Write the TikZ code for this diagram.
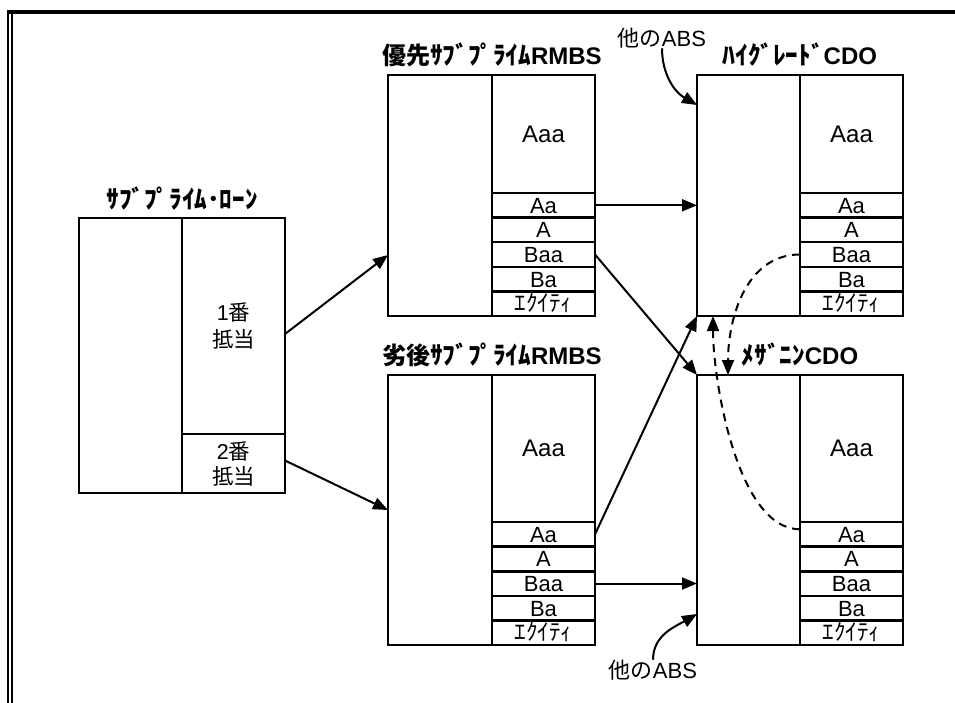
\documentclass[tikz,border=0pt]{standalone}
\usepackage{fontspec}
\setmainfont{Liberation Sans}
\newfontfamily\jp{Noto Sans CJK JP}
\newfontfamily\kana{Noto Sans CJK JP}[Scale=1.05]
\usetikzlibrary{positioning,arrows.meta}

\tikzset{
    box/.style={draw, line width=2.6pt, inner sep=0pt, outer sep=0pt, anchor=north west},
    cell/.style={box, minimum width=103pt, align=center, font=\fontsize{24}{27}\selectfont},
    band/.style={cell, minimum height=24.6pt, text height=16pt, text depth=0pt, font=\fontsize{22}{24}\selectfont},
    ttl/.style={font=\fontsize{24}{26}\selectfont\bfseries, inner sep=0pt, above=8pt},
    note/.style={font=\fontsize{22}{24}\selectfont, inner sep=0pt},
    flow/.style={line width=2pt, -{Triangle[length=15pt,width=12pt]}},
    dashflow/.style={flow, dash pattern=on 8pt off 6pt}
}

\begin{document}
\begin{tikzpicture}[x=1pt, y=1pt]
    \useasboundingbox (0,0) rectangle (955,-703);
    % frame
    \draw[line width=4pt] (8,-12) -- (955,-12);
    \draw[line width=2pt] (8,-10) -- (8,-703) (11.5,-14) -- (11.5,-703);

    % sub-prime loans
    \node[box, minimum width=103pt, minimum height=275pt] (loanL) at (79,-218) {};
    \node[cell, minimum height=216pt, font=\fontsize{21.5}{27}\selectfont] (loan1) at (loanL.north east) {1{\jp 番}\\{\jp 抵当}};
    \node[cell, minimum height=59pt, font=\fontsize{21.5}{25}\selectfont, below=0pt of loan1] (loan2) {2{\jp 番}\\{\jp 抵当}};
    \node[ttl] (loanT) at (loanL.north east) {\kana ｻﾌﾞﾌﾟﾗｲﾑ･ﾛｰﾝ};

    % senior RMBS
    \node[box, minimum width=104pt, minimum height=241pt] (srL) at (388,-75) {};
    \node[cell, minimum height=118pt] (srAaa) at (srL.north east) {Aaa};
    \node[band, below=0pt of srAaa] (srAa) {Aa};
    \node[band, below=0pt of srAa] (srA) {A};
    \node[band, below=0pt of srA] (srBaa) {Baa};
    \node[band, below=0pt of srBaa] (srBa) {Ba};
    \node[band, below=0pt of srBa] (srEq) {\kana ｴｸｲﾃｨ};
    \node[ttl] (srT) at (srL.north east) {{\jp 優先}{\kana ｻﾌﾞﾌﾟﾗｲﾑ}RMBS};

    % junior RMBS
    \node[box, minimum width=104pt, minimum height=270pt] (jrL) at (388,-375) {};
    \node[cell, minimum height=147pt] (jrAaa) at (jrL.north east) {Aaa};
    \node[band, below=0pt of jrAaa] (jrAa) {Aa};
    \node[band, below=0pt of jrAa] (jrA) {A};
    \node[band, below=0pt of jrA] (jrBaa) {Baa};
    \node[band, below=0pt of jrBaa] (jrBa) {Ba};
    \node[band, below=0pt of jrBa] (jrEq) {\kana ｴｸｲﾃｨ};
    \node[ttl] (jrT) at (jrL.north east) {{\jp 劣後}{\kana ｻﾌﾞﾌﾟﾗｲﾑ}RMBS};

    % high grade CDO
    \node[box, minimum width=103pt, minimum height=241pt] (hgL) at (697,-75) {};
    \node[cell, minimum height=118pt] (hgAaa) at (hgL.north east) {Aaa};
    \node[band, below=0pt of hgAaa] (hgAa) {Aa};
    \node[band, below=0pt of hgAa] (hgA) {A};
    \node[band, below=0pt of hgA] (hgBaa) {Baa};
    \node[band, below=0pt of hgBaa] (hgBa) {Ba};
    \node[band, below=0pt of hgBa] (hgEq) {\kana ｴｸｲﾃｨ};
    \node[ttl] (hgT) at (hgL.north east) {{\kana ﾊｲｸﾞﾚｰﾄﾞ}CDO};

    % mezzanine CDO
    \node[box, minimum width=103pt, minimum height=270pt] (mzL) at (697,-375) {};
    \node[cell, minimum height=147pt] (mzAaa) at (mzL.north east) {Aaa};
    \node[band, below=0pt of mzAaa] (mzAa) {Aa};
    \node[band, below=0pt of mzAa] (mzA) {A};
    \node[band, below=0pt of mzA] (mzBaa) {Baa};
    \node[band, below=0pt of mzBaa] (mzBa) {Ba};
    \node[band, below=0pt of mzBa] (mzEq) {\kana ｴｸｲﾃｨ};
    \node[ttl] (mzT) at (mzL.north east) {{\kana ﾒｻﾞﾆﾝ}CDO};

    % other ABS
    \node[note] (absT) at (662,-38) {{\jp 他の}ABS};
    \node[note] (absB) at (653,-670) {{\jp 他の}ABS};

    % flows
    \draw[flow] ([yshift=-8pt]loan1.east) -- ([yshift=61pt]srL.south west);
    \draw[flow] ([yshift=3pt]loan2.east) -- (jrL.west);
    \draw[flow] (srAa.east) -- (srAa.east -| hgL.west);
    \draw[flow] (srBaa.east) -- (mzL.north west);
    \draw[flow] (jrAa.east) -- (hgL.south west);
    \draw[flow] (jrBaa.east) -- (jrBaa.east -| mzL.west);
    \draw[flow] (absT.south) to[out=-90, in=150] ([yshift=-30pt]hgL.north west);
    \draw[flow] (absB.north) to[out=90, in=210] ([yshift=31pt]mzL.south west);
    \draw[dashflow] (hgBaa.west) to[out=180, in=90] ([xshift=31pt]mzL.north west);
    \draw[dashflow] ([yshift=5pt]mzAa.west) to[out=180, in=-90, looseness=0.7] ([xshift=16pt]hgL.south west);
\end{tikzpicture}
\end{document}
